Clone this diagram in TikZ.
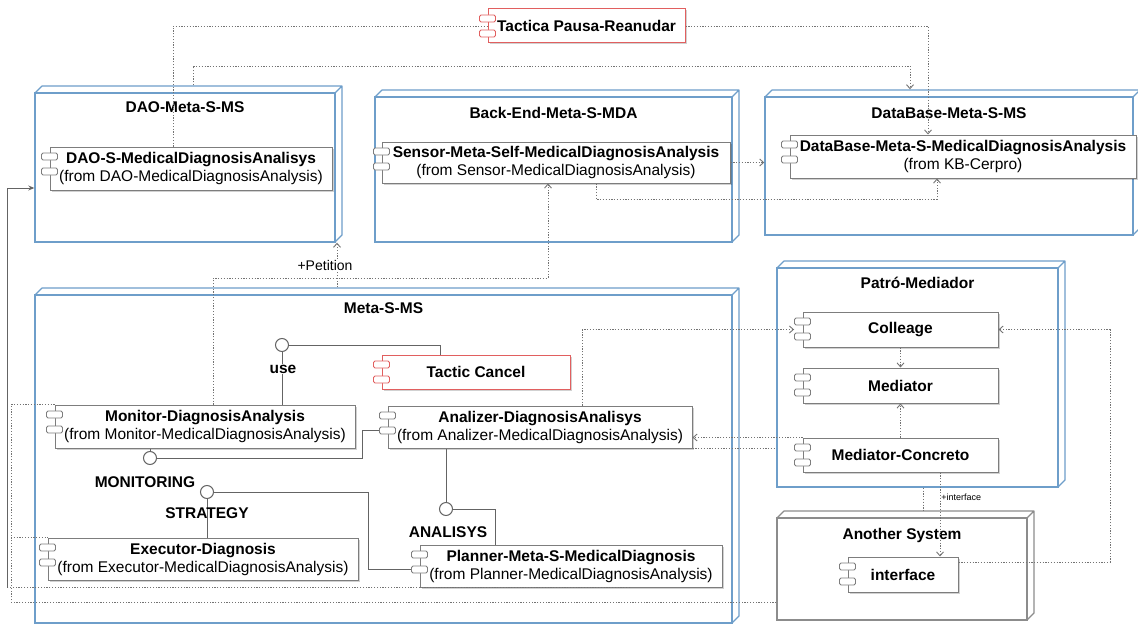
\documentclass[tikz,border=0pt]{standalone}
\usepackage{fontspec}
\setmainfont{Liberation Sans}
\usetikzlibrary{arrows.meta,shadows}

\definecolor{nodeblue}{RGB}{110,158,202}
\definecolor{boxgray}{RGB}{140,140,140}
\definecolor{compgray}{RGB}{125,125,125}
\definecolor{tacred}{RGB}{225,95,95}
\definecolor{linkgray}{RGB}{100,100,100}
\definecolor{depgray}{RGB}{115,115,115}

\tikzset{
  every node/.style={font=\fontsize{15.5}{18}\selectfont},
  comp/.style={draw=compgray, fill=white, line width=1pt, inner sep=0pt, align=center,
    drop shadow={shadow xshift=1.5pt, shadow yshift=-1.5pt, opacity=0.18, fill=black}},
  tabbox/.style={draw=compgray, fill=white, line width=0.9pt, minimum width=16pt,
    minimum height=7pt, inner sep=0pt, rounded corners=1.5pt},
  ttl/.style={font=\bfseries\fontsize{15.5}{18}\selectfont},
  lbl/.style={font=\bfseries\fontsize{15.5}{18}\selectfont, inner sep=1pt},
  dep/.style={draw=depgray, line width=0.9pt, dash pattern=on 1.2pt off 1.6pt},
  deparrow/.style={dep, -{Straight Barb[length=4pt,width=7pt]}},
  link/.style={draw=linkgray, line width=1pt},
  lolli/.style={circle, draw=linkgray, fill=white, line width=1pt, minimum size=13pt, inner sep=0pt},
}

% 3D deployment node: colour, name, x1, y1, x2, y2, title y, title
\newcommand{\threed}[8][nodeblue]{%
  \draw[#1, line width=1.2pt, line join=round]
        ({#3},{#4}) -- ++(7,-7) -- ++({#5-#3},0) -- ++(0,{#6-#4}) -- ({#5},{#6})
        ({#5},{#4}) -- ++(7,-7);
  \node[draw=#1, line width=1.4pt, inner sep=0pt,
        minimum width={(#5-#3)*1pt}, minimum height={(#6-#4)*1pt}]
        (#2) at ({(#3+#5)/2},{(#4+#6)/2}) {};
  \coordinate (#2-back) at ([shift={(7,-7)}]#2.north west);
  \node[ttl] (#2-title) at ({(#3+#5)/2},#7) {#8};
}

% UML component: colour, name, x1, y1, x2, y2, text
\newcommand{\comp}[7][compgray]{%
  \node[comp, draw=#1, minimum width={(#5-#3)*1pt}, minimum height={(#6-#4)*1pt}]
        (#2) at ({(#3+#5)/2},{(#4+#6)/2}) {#7};
  \node[tabbox, draw=#1] (#2-t1) at ([yshift=-10pt]#2.north west) {};
  \node[tabbox, draw=#1] (#2-t2) at ([yshift=-25pt]#2.north west) {};
}

\begin{document}
\begin{tikzpicture}[x=1pt,y=-1pt]
\fill[white] (0,0) rectangle (1138,626);
\useasboundingbox (0,0) rectangle (1138,626);

% deployment nodes
\threed{daoN}{35}{93}{335}{242}{107}{DAO-Meta-S-MS}
\threed{beN}{375}{97}{732}{242}{113}{Back-End-Meta-S-MDA}
\threed{dbN}{765}{97}{1133}{235}{113}{DataBase-Meta-S-MS}
\threed{metaN}{35}{295}{732}{623}{308}{Meta-S-MS}
\threed{patN}{777}{268}{1058}{487}{283}{Patró-Mediador}
\threed[boxgray]{anoN}{777}{518}{1027}{620}{535}{Another System}

% components
\comp[tacred]{tacP}{488}{9}{685}{43}{\textbf{Tactica Pausa-Reanudar}}
\comp{daoC}{50}{147}{332}{190}{\textbf{DAO-S-MedicalDiagnosisAnalisys}\\(from DAO-MedicalDiagnosisAnalysis)}
\comp{senC}{382}{142}{730}{183}{\textbf{Sensor-Meta-Self-MedicalDiagnosisAnalysis}\\(from Sensor-MedicalDiagnosisAnalysis)}
\comp{dbC}{790}{135}{1136}{178}{\textbf{DataBase-Meta-S-MedicalDiagnosisAnalysis}\\(from KB-Cerpro)}
\comp[tacred]{tacC}{382}{355}{570}{389}{\textbf{Tactic Cancel}}
\comp{monC}{55}{405}{355}{448}{\textbf{Monitor-DiagnosisAnalysis}\\(from Monitor-MedicalDiagnosisAnalysis)}
\comp{anaC}{388}{406}{692}{448}{\textbf{Analizer-DiagnosisAnalisys}\\(from Analizer-MedicalDiagnosisAnalysis)}
\comp{exeC}{48}{538}{358}{580}{\textbf{Executor-Diagnosis}\\(from Executor-MedicalDiagnosisAnalysis)}
\comp{plaC}{420}{545}{722}{587}{\textbf{Planner-Meta-S-MedicalDiagnosis}\\(from Planner-MedicalDiagnosisAnalysis)}
\comp{colC}{803}{312}{998}{347}{\textbf{Colleage}}
\comp{medC}{803}{368}{998}{403}{\textbf{Mediator}}
\comp{mcoC}{803}{438}{998}{472}{\textbf{Mediator-Concreto}}
\comp{intC}{848}{557}{958}{592}{\textbf{interface}}

% dependencies
\draw[dep] (173,0 |- daoC.north) |- (tacP.west);
\draw[deparrow] (tacP.east) -| (928,0 |- dbC.north);
\draw[deparrow] (193,0 |- daoN-back) -- (193,66) -| (910,0 |- dbN-back);
\draw[deparrow] (senC.east) -- (senC.east -| dbN.west);
\draw[deparrow] (596,0 |- senC.south) -- (596,199) -| (937,0 |- dbC.south);
\draw[deparrow] (213,0 |- monC.north) -- (213,278) -| (548,0 |- senC.south);
\draw[deparrow] (337,0 |- metaN-back) -- (337,0 |- daoN.south)
  node[pos=0.5, xshift=-12pt, fill=white, inner sep=1pt, font=\fontsize{14}{16}\selectfont] (petL) {+Petition};
\draw[deparrow] (582,0 |- anaC.north) |- (colC-t1.west |- colC.west);
\draw[deparrow] (colC.south) -- (medC.north);
\draw[deparrow] (mcoC.north) -- (medC.south);
\draw[deparrow] (mcoC.north west) -- (mcoC.north west -| anaC.east);
\draw[dep] (anaC.south east) -- (anaC.south east -| patN.west);
\draw[deparrow] (intC.east |- 0,562) -| (1110,0 |- colC.east) -- (colC.east);
\draw[deparrow] (940,0 |- mcoC.south) -- (940,0 |- intC.north)
  node[pos=0.3, anchor=west, inner sep=1pt, font=\fontsize{9}{10}\selectfont] (intL) {+interface};
\draw[dep] (923,0 |- patN.south) -- (923,0 |- anoN-back);
\draw[dep] (anoN.west |- 0,602) -- (11,602) |- (monC.north west);
\draw[dep] (11,0 |- exeC.north) -- (exeC.north west);
\draw[dep] (630,0 |- plaC.south) -- (7,0 |- plaC.south);
\draw[link, -{Stealth[length=6pt,width=5pt]}] (7,0 |- plaC.south) |- (daoN.west |- 0,188);

% provided / required interfaces
\node[lolli] (useI) at (282,345) {};
\node[lolli] (monI) at (150,458) {};
\node[lolli] (strI) at (207,492) {};
\node[lolli] (anaI) at (446,509) {};

\draw[link] (useI.east) -| (440,0 |- tacC.north);
\draw[link] (useI.south) -- (useI.south |- monC.north);
\draw[link] (monI.north) -- (monI.north |- monC.south);
\draw[link] (monI.east) -- (362,458) |- (anaC-t2.west);
\draw[link] (strI.south) -- (strI.south |- exeC.north);
\draw[link] (strI.east) -- (368,492) |- (plaC-t2.west);
\draw[link] (anaI.north) -- (anaI.north |- anaC.south);
\draw[link] (anaI.east) -| (495,0 |- plaC.north);

\node[lbl, fill=white] (useL) at (283,369) {use};
\node[lbl] (monL) at (145,482) {MONITORING};
\node[lbl] (strL) at (207,513) {STRATEGY};
\node[lbl] (anaL) at (448,532) {ANALISYS};
\end{tikzpicture}
\end{document}
